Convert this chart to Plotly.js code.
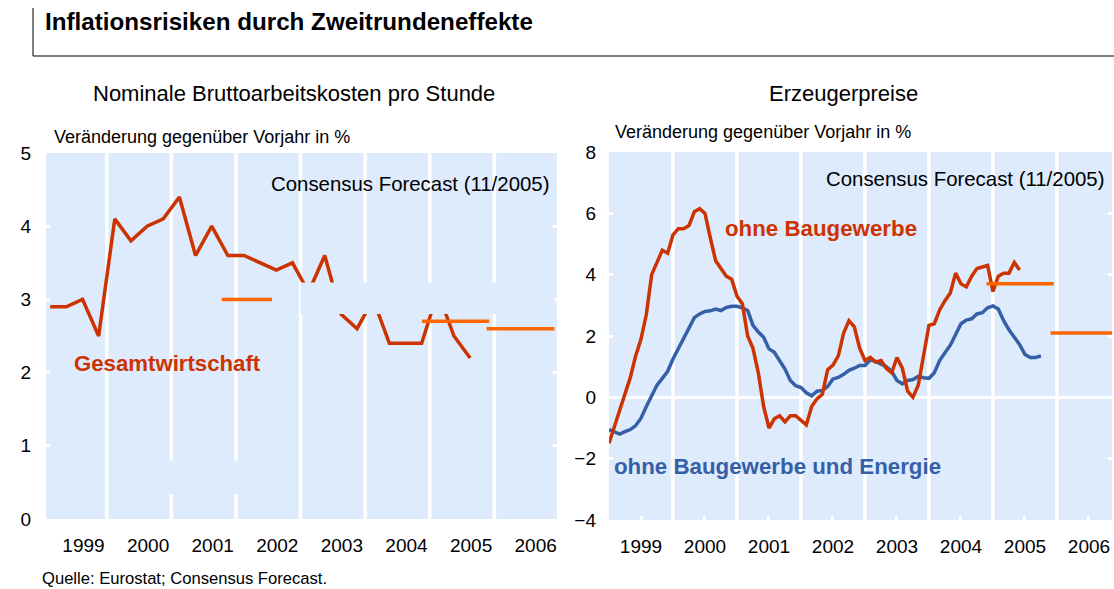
<!DOCTYPE html>
<html>
<head>
<meta charset="utf-8">
<script src="https://cdn.plot.ly/plotly-3.0.1.min.js"></script>
<style>html,body{margin:0;padding:0;background:#fff;}#chart{width:1114px;height:589px;}</style>
</head>
<body>
<div id="chart"></div>
<script>
// ---------- DATA ----------
// Left: Nominale Bruttoarbeitskosten pro Stunde, quarterly 1999Q1 .. 2005Q3 (% yoy)
const laborQuarters = ["1999Q1","1999Q2","1999Q3","1999Q4","2000Q1","2000Q2","2000Q3","2000Q4",
  "2001Q1","2001Q2","2001Q3","2001Q4","2002Q1","2002Q2","2002Q3","2002Q4",
  "2003Q1","2003Q2","2003Q3","2003Q4","2004Q1","2004Q2","2004Q3","2004Q4",
  "2005Q1","2005Q2","2005Q3"];
const laborCost = [2.9, 2.9, 3.0, 2.5, 4.1, 3.8, 4.0, 4.1,
  4.4, 3.6, 4.0, 3.6, 3.6, 3.5, 3.4, 3.5,
  3.1, 3.6, 2.8, 2.6, 3.0, 2.4, 2.4, 2.4,
  3.1, 2.5, 2.2];
// Consensus Forecast segments (left)
const laborFcValue = [3.0, 2.7, 2.6];
const laborFcStart = [2001.78, 2004.88, 2005.88];
const laborFcEnd   = [2002.56, 2005.92, 2006.93];

// Right: Erzeugerpreise, monthly from Jan 1999 (% yoy)
const ppiStartYear = 1999;
const ppiExConstr = [ // ohne Baugewerbe, Jan 1999 .. Jun 2005
  -1.5, -0.95, -0.45, 0.1, 0.65, 1.35, 1.9, 2.7, 4.0, 4.4, 4.8, 4.7,
  5.3, 5.5, 5.5, 5.6, 6.05, 6.15, 6.0, 5.2, 4.45, 4.2, 3.95, 3.85,
  3.3, 3.05, 2.0, 1.6, 0.8, -0.3, -1.0, -0.7, -0.6, -0.8, -0.6, -0.6,
  -0.75, -0.9, -0.3, -0.05, 0.1, 0.9, 1.05, 1.35, 2.1, 2.5, 2.3, 1.6,
  1.2, 1.3, 1.15, 1.2, 0.95, 0.8, 1.3, 0.95, 0.2, 0.0, 0.4, 1.45,
  2.35, 2.4, 2.85, 3.15, 3.4, 4.05, 3.7, 3.6, 3.95, 4.2, 4.25, 4.3,
  3.45, 3.95, 4.05, 4.05, 4.4, 4.15];
const ppiExConstrEnergy = [ // ohne Baugewerbe und Energie, Jan 1999 .. Oct 2005
  -1.05, -1.12, -1.2, -1.12, -1.05, -0.92, -0.68, -0.3, 0.05, 0.4, 0.62, 0.85,
  1.25, 1.6, 1.9, 2.3, 2.6, 2.72, 2.8, 2.82, 2.88, 2.83, 2.93, 2.97,
  2.97, 2.92, 2.83, 2.35, 2.13, 1.96, 1.58, 1.47, 1.2, 0.92, 0.55, 0.38,
  0.32, 0.15, 0.05, 0.2, 0.22, 0.35, 0.6, 0.65, 0.75, 0.88, 0.95, 1.04,
  1.04, 1.22, 1.17, 1.1, 1.0, 0.85, 0.55, 0.44, 0.55, 0.58, 0.68, 0.64,
  0.62, 0.8, 1.2, 1.45, 1.7, 2.05, 2.4, 2.52, 2.56, 2.72, 2.76, 2.92,
  2.98, 2.88, 2.5, 2.2, 1.98, 1.72, 1.4, 1.3, 1.3, 1.35];
// Consensus Forecast segments (right)
const ppiFcValue = [3.7, 2.1];
const ppiFcStart = [2004.9, 2005.9];
const ppiFcEnd   = [2005.95, 2006.86];

const years = [1999, 2000, 2001, 2002, 2003, 2004, 2005, 2006];
const yTicksLeft = [0, 1, 2, 3, 4, 5];
const yTicksRight = [-4, -2, 0, 2, 4, 6, 8];

// ---------- HELPERS ----------
const W = 1114, H = 589;
const px = x => x / W;
const py = y => 1 - y / H;
const quarterX = q => parseInt(q.slice(0, 4)) + (parseInt(q.slice(5)) - 1) * 0.25 + 0.125;
const monthX = i => ppiStartYear + i / 12;

const RED = "#CC3300", ORANGE = "#FF6600", BLUE = "#3560A8", BG = "#DDEBFC";
const FONT = "Liberation Sans, Arial, sans-serif";

const traces = [];
traces.push({x: laborQuarters.map(quarterX), y: laborCost, xaxis: "x", yaxis: "y",
  mode: "lines", line: {color: RED, width: 3.5}, hoverinfo: "skip"});
laborFcValue.forEach((v, i) => traces.push({x: [laborFcStart[i], laborFcEnd[i]], y: [v, v],
  xaxis: "x", yaxis: "y", mode: "lines", line: {color: ORANGE, width: 3.5}, hoverinfo: "skip"}));
traces.push({x: ppiExConstrEnergy.map((v, i) => monthX(i)), y: ppiExConstrEnergy, xaxis: "x2", yaxis: "y2",
  mode: "lines", line: {color: BLUE, width: 3.5}, hoverinfo: "skip"});
traces.push({x: ppiExConstr.map((v, i) => monthX(i)), y: ppiExConstr, xaxis: "x2", yaxis: "y2",
  mode: "lines", line: {color: RED, width: 3.5}, hoverinfo: "skip"});
ppiFcValue.forEach((v, i) => traces.push({x: [ppiFcStart[i], ppiFcEnd[i]], y: [v, v],
  xaxis: "x2", yaxis: "y2", mode: "lines", line: {color: ORANGE, width: 3.5}, hoverinfo: "skip"}));

const shapes = [];
// frame around header
shapes.push({type: "line", xref: "paper", yref: "paper", x0: px(33), x1: px(33), y0: py(8), y1: py(56), line: {color: "#000", width: 1}});
shapes.push({type: "line", xref: "paper", yref: "paper", x0: px(33), x1: 1, y0: py(56), y1: py(56), line: {color: "#000", width: 1}});
// white year separators
years.slice(1).forEach(yr => {
  shapes.push({type: "line", xref: "x", yref: "y domain", x0: yr, x1: yr, y0: 0, y1: 1, layer: "below", line: {color: "#fff", width: 3.5}});
  shapes.push({type: "line", xref: "x2", yref: "y2 domain", x0: yr, x1: yr, y0: 0, y1: 1, layer: "below", line: {color: "#fff", width: 3.5}});
});
// masked areas in the left panel (as in the original)
shapes.push({type: "rect", xref: "x", yref: "y", x0: 2003.0, x1: 2006.93, y0: 2.8, y1: 3.23, layer: "above", fillcolor: BG, line: {width: 0}});
shapes.push({type: "rect", xref: "x", yref: "y", x0: 2000.05, x1: 2002.95, y0: 0.34, y1: 0.8, layer: "above", fillcolor: BG, line: {width: 0}});

const ann = (text, x, y, size, opts = {}) => Object.assign({text, x: px(x), y: py(y), xref: "paper", yref: "paper",
  showarrow: false, xanchor: "left", yanchor: "middle", font: {family: FONT, size, color: "#000"}}, opts);

const annotations = [
  ann("Nominale Bruttoarbeitskosten pro Stunde", 294, 94, 22, {xanchor: "center"}),
  ann("Erzeugerpreise", 843, 94, 22, {xanchor: "center"}),
  ann("Veränderung gegenüber Vorjahr in %", 52, 137, 18),
  ann("Veränderung gegenüber Vorjahr in %", 613, 132, 18),
  ann("Consensus Forecast (11/2005)", 551, 184, 20.4, {xanchor: "right"}),
  ann("Consensus Forecast (11/2005)", 1106, 179, 20.4, {xanchor: "right"}),
  ann("<b>Gesamtwirtschaft</b>", 72, 364, 22.2, {font: {family: FONT, size: 22.2, color: RED}}),
  ann("<b>ohne Baugewerbe</b>", 723, 228, 22.3, {font: {family: FONT, size: 22.3, color: RED}}),
  ann("<b>ohne Baugewerbe und Energie</b>", 612, 466, 22.3, {font: {family: FONT, size: 22.3, color: BLUE}}),
  ann("Quelle: Eurostat; Consensus Forecast.", 40, 578, 16.6)
];

const tickFont = {family: FONT, size: 19, color: "#000"};
const layout = {
  width: W, height: H,
  margin: {l: 0, r: 0, t: 0, b: 0},
  paper_bgcolor: "#fff", plot_bgcolor: BG,
  showlegend: false,
  font: {family: FONT},
  title: {text: "<b>Inflationsrisiken durch Zweitrundeneffekte</b>", x: px(45), xanchor: "left", xref: "paper",
    y: py(22), yanchor: "middle", yref: "paper", font: {family: FONT, size: 24.2, color: "#000"}},
  xaxis: {domain: [px(46), px(557)], range: [1999.06, 2006.97], showgrid: false, zeroline: false,
    tickmode: "array", tickvals: years.map(y => y + 0.64), ticktext: years.map(String), ticks: "",
    tickfont: tickFont, ticklabelstandoff: 13, anchor: "y", fixedrange: true},
  yaxis: {domain: [py(519), py(153)], range: [0, 5], showgrid: false, zeroline: false,
    tickmode: "array", tickvals: yTicksLeft, ticks: "inside", ticklen: 4, tickwidth: 3, tickcolor: "#fff", mirror: "ticks",
    tickfont: tickFont, ticklabelstandoff: 14, anchor: "x", fixedrange: true},
  xaxis2: {domain: [px(609), px(1112)], range: [1999.0, 2006.86], showgrid: false, zeroline: false,
    tickmode: "array", tickvals: years.map(y => y + 0.5), ticktext: years.map(String), ticks: "inside", ticklen: 4, tickwidth: 3, tickcolor: "#fff",
    tickfont: tickFont, ticklabelstandoff: 13, anchor: "y2", fixedrange: true},
  yaxis2: {domain: [py(520), py(152)], range: [-4, 8], showgrid: false, zeroline: true, zerolinecolor: "#fff", zerolinewidth: 3.5,
    tickmode: "array", tickvals: yTicksRight, ticks: "inside", ticklen: 4, tickwidth: 3, tickcolor: "#fff", mirror: "ticks",
    tickfont: tickFont, ticklabelstandoff: 12, anchor: "x2", fixedrange: true},
  shapes, annotations
};

Plotly.newPlot("chart", traces, layout, {displayModeBar: false, staticPlot: true});
</script>
</body>
</html>
